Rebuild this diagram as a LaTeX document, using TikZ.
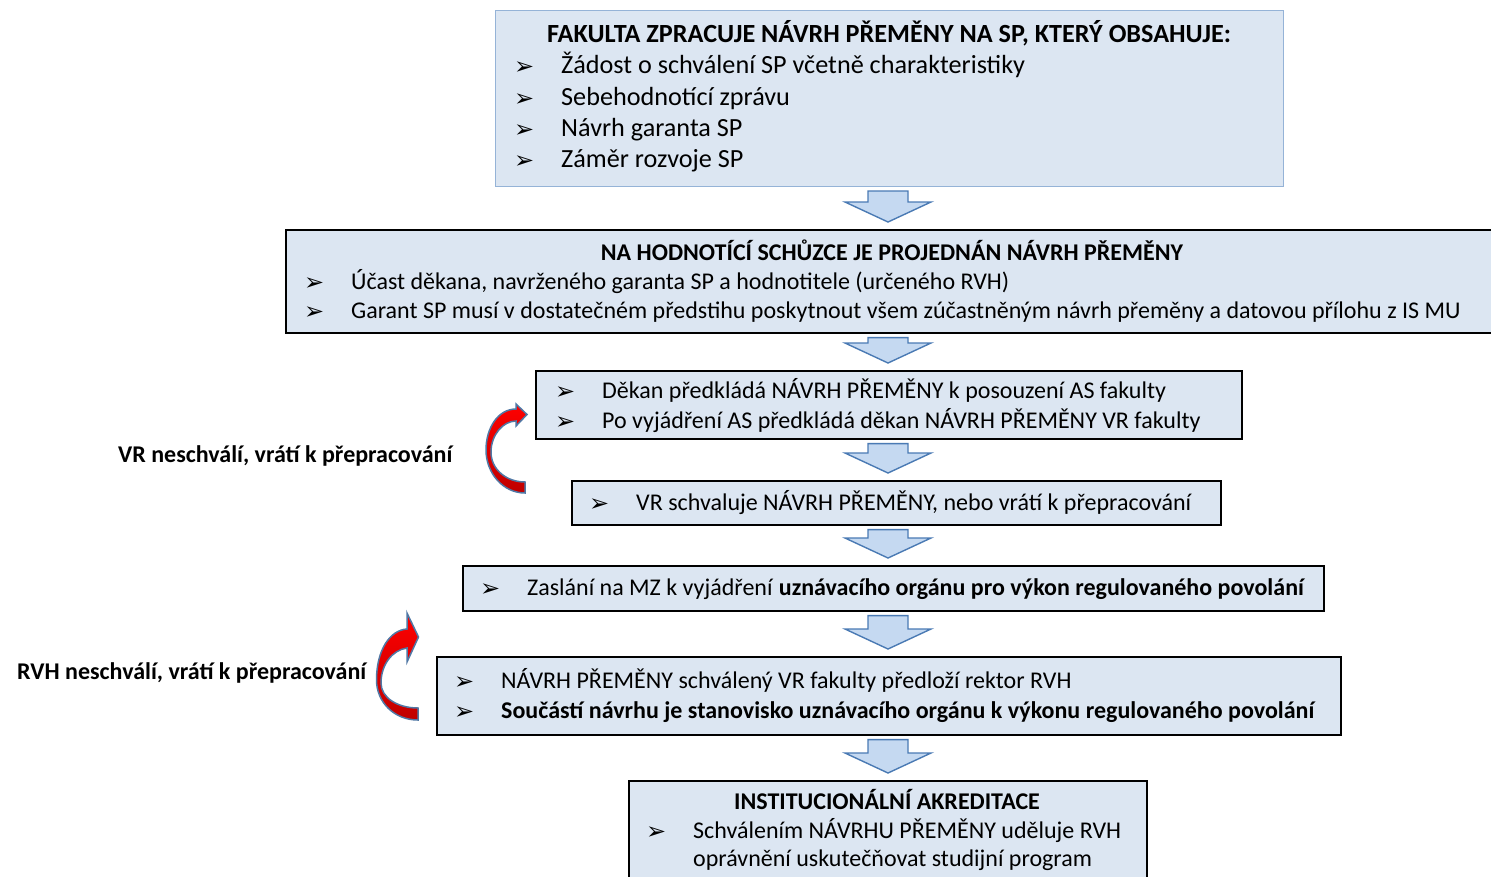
\documentclass[tikz,border=0pt]{standalone}
\usepackage{fontspec}
\setmainfont{Carlito}
\newfontfamily\bulletfont{DejaVu Sans}
\usetikzlibrary{calc}

\definecolor{boxfill}{RGB}{220,230,242}
\definecolor{boxline}{RGB}{149,179,215}
\definecolor{arrowfill}{RGB}{197,217,241}
\definecolor{arrowline}{RGB}{74,122,180}
\definecolor{curveline}{RGB}{80,120,165}

\tikzset{
  box/.style={draw=black, line width=1.6pt, fill=boxfill, anchor=north west, inner sep=0pt},
  txt/.style={anchor=base west, inner sep=0pt, font=\fontsize{24}{28}\selectfont},
  head/.style={anchor=base, inner sep=0pt, font=\fontsize{24}{28}\selectfont\bfseries},
  big/.style={font=\fontsize{26.2}{30}\selectfont},
  bighead/.style={font=\fontsize{26.2}{30}\selectfont\bfseries},
  lbl/.style={anchor=base west, inner sep=0pt, font=\fontsize{24}{28}\selectfont\bfseries},
  blockarrow/.style={fill=arrowfill, draw=arrowline, line width=1.4pt, line join=miter},
  backarrow/.style={top color=red, bottom color=red!75!black, draw=curveline, line width=1.5pt}
}

% bullet of the lists
\newcommand\itm{\makebox[47pt][l]{\bulletfont\fontsize{24}{28}\selectfont\raisebox{-1.5pt}{➢}}}

% blue block arrow between two boxes
\newcommand\flowarrow[2]{%
  \path (#1.south -| col) coordinate (t) (#2.north -| col) coordinate (h);
  \draw[blockarrow] ($(t)+(-20,4)$) -- ($(h)+(-20,-27)$) -- ($(h)+(-43,-27)$)
    -- ($(h)+(0,-7)$) -- ($(h)+(43,-27)$) -- ($(h)+(20,-27)$) -- ($(t)+(20,4)$) -- cycle;}

\begin{document}
\begin{tikzpicture}[x=1pt,y=-1pt]
\clip (0,0) rectangle (1491,876);
\fill[white] (0,0) rectangle (1491,876);
\coordinate (col) at (888,0);

% boxes
\node[box, draw=boxline, line width=1pt, minimum width=788pt, minimum height=176pt] (fakulta) at (495,10) {};
\node[box, minimum width=1215pt, minimum height=103pt] (schuzka) at (285,229) {};
\node[box, minimum width=706pt, minimum height=68pt] (dekan) at (535,370) {};
\node[box, minimum width=649pt, minimum height=44pt] (vr) at (571,480) {};
\node[box, minimum width=861pt, minimum height=45pt] (mz) at (462,565) {};
\node[box, minimum width=904pt, minimum height=78pt] (rektor) at (436,656) {};
\node[box, minimum width=518pt, minimum height=110pt] (akred) at (628,780) {};

% texts
\node[head, bighead] (fakulta-t) at (889,42) {FAKULTA ZPRACUJE NÁVRH PŘEMĚNY NA SP, KTERÝ OBSAHUJE:};
\node[txt, big] (fakulta-1) at (514,73) {\itm Žádost o schválení SP včetně charakteristiky};
\node[txt, big] (fakulta-2) at (514,105) {\itm Sebehodnotící zprávu};
\node[txt, big] (fakulta-3) at (514,136) {\itm Návrh garanta SP};
\node[txt, big] (fakulta-4) at (514,167) {\itm Záměr rozvoje SP};

\node[head] (schuzka-t) at (892,260) {NA HODNOTÍCÍ SCHŮZCE JE PROJEDNÁN NÁVRH PŘEMĚNY};
\node[txt] (schuzka-1) at (304,289) {\itm Účast děkana, navrženého garanta SP a hodnotitele (určeného RVH)};
\node[txt] (schuzka-2) at (304,318) {\itm Garant SP musí v dostatečném předstihu poskytnout všem zúčastněným návrh přeměny a datovou přílohu z IS MU};

\node[txt] (dekan-1) at (555,398) {\itm Děkan předkládá NÁVRH PŘEMĚNY k posouzení AS fakulty};
\node[txt] (dekan-2) at (555,428) {\itm Po vyjádření AS předkládá děkan NÁVRH PŘEMĚNY VR fakulty};

\node[txt] (vr-1) at (589,510) {\itm VR schvaluje NÁVRH PŘEMĚNY, nebo vrátí k přepracování};

\node[txt] (mz-1) at (480,595) {\itm Zaslání na MZ k vyjádření \textbf{uznávacího orgánu pro výkon regulovaného povolání}};

\node[txt] (rektor-1) at (454,688) {\itm NÁVRH PŘEMĚNY schválený VR fakulty předloží rektor RVH};
\node[txt] (rektor-2) at (454,718) {\itm \textbf{Součástí návrhu je stanovisko uznávacího orgánu k výkonu regulovaného povolání}};

\node[head] (akred-t) at (887,809) {INSTITUCIONÁLNÍ AKREDITACE};
\node[txt] (akred-1) at (646,838) {\itm Schválením NÁVRHU PŘEMĚNY uděluje RVH};
\node[txt] (akred-2) at (693,866) {oprávnění uskutečňovat studijní program};

% flow
\flowarrow{fakulta}{schuzka}
\flowarrow{schuzka}{dekan}
\flowarrow{dekan}{vr}
\flowarrow{vr}{mz}
\flowarrow{mz}{rektor}
\flowarrow{rektor}{akred}

% back to rework
\draw[backarrow] (525,493) .. controls (503,493) and (486,473) .. (486,450)
  .. controls (486,428) and (498,409) .. (516,409) -- (516,404) -- (527,414.5) -- (516,426) -- (516,421)
  .. controls (503,421) and (491,435) .. (491,452) .. controls (491,470) and (507,482) .. (525,482) -- cycle;
\node[lbl] (vr-back) at (118,462) {VR neschválí, vrátí k přepracování};

\draw[backarrow] (418,720) .. controls (394,720) and (376.5,702) .. (376.5,680)
  .. controls (376.5,650) and (390,630) .. (407,629) -- (407,613) -- (418.5,637) -- (407,662) -- (407,648)
  .. controls (392,650) and (381,665) .. (381,683) .. controls (381,698) and (398,708) .. (418,708) -- cycle;
\node[lbl] (rvh-back) at (17,679) {RVH neschválí, vrátí k přepracování};

\end{tikzpicture}
\end{document}
